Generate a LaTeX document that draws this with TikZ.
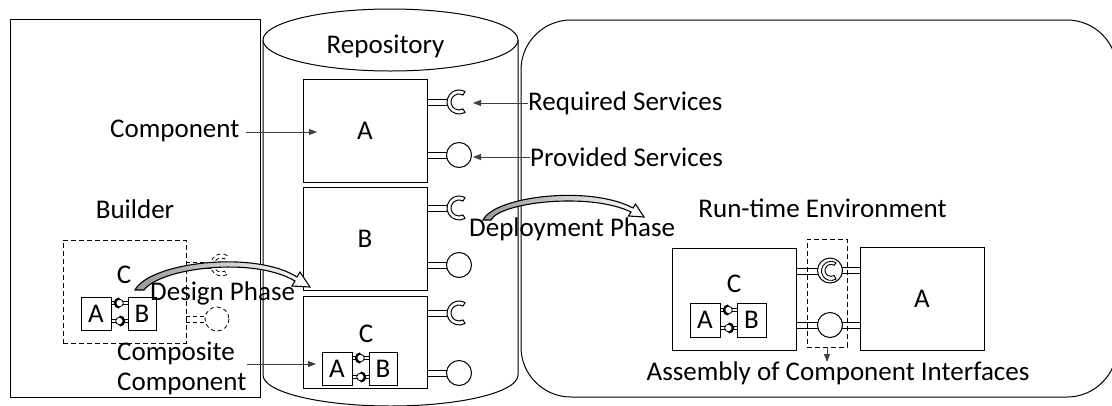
\documentclass[tikz,border=0pt]{standalone}
\usepackage{fontspec}
\setmainfont{Carlito}
\usetikzlibrary{arrows.meta}
% a two-line stub of the given length, leaving a box at (x,y)
\newcommand\stubat[3]{%
  \draw[stub] (#1,#2) ++(0,-3) -- ++(#3,0) (#1,#2) ++(0,3) -- ++(#3,0);}
% interface symbols, drawn from the point where they leave a box
\newcommand\reqif[2]{%
  \stubat{#1}{#2}{21}
  \draw[band] (#1,#2) ++(38,10.39) arc[start angle=60, end angle=300, radius=12]
    -- ++(-2,3.46) arc[start angle=300, end angle=60, radius=8] -- cycle;}
\newcommand\provif[2]{%
  \stubat{#1}{#2}{20.5}
  \draw[band] (#1,#2) ++(32,0) circle[radius=12.5];}
\newcommand\jointat[3]{%
  \draw[line width=0.7pt] (#1,#2) ++(0,-1.5) -- ++(17,0) (#1,#2) ++(0,1.5) -- ++(17,0);
  \draw[line width=0.8pt, fill=white] (#1,#2) ++(8.5,0) circle[radius=3.8];
  \draw[line width=2.2pt] (#1,#2) ++(8.5,0) ++(#3:4.6) arc[start angle=#3, delta angle=180, radius=4.6];}
\begin{document}
\begin{tikzpicture}[x=1pt, y=-1pt,
  every node/.style={font=\fontsize{27}{32}\selectfont, inner sep=0pt},
  frame/.style={draw, line width=1pt},
  box/.style={draw, line width=1pt, fill=white},
  dbox/.style={draw, line width=0.9pt, dash pattern=on 5pt off 3pt},
  label arrow/.style={draw=black!75, line width=0.8pt, -{Triangle[length=8pt,width=6pt]}},
  stub/.style={draw, line width=1pt},
  band/.style={draw, line width=1pt, fill=white},
  ghost/.style={line width=0.8pt, dash pattern=on 4pt off 3pt},
  phase/.style={draw, line width=1.1pt, left color=gray!80, right color=white},
]
\useasboundingbox (0,0) rectangle (1112,405);
\clip (0,0) rectangle (1112,405);

% ---------- Builder ----------
\draw[frame] (10,19) rectangle (260,397);

% ---------- Repository (cylinder) ----------
\draw[frame, fill=white] (263,40) -- (263,375)
  arc[start angle=180, end angle=0, x radius=127.5, y radius=31] -- (518,40);
\draw[frame, fill=white] (390.5,40) ellipse[x radius=127.5, y radius=31];
\node[anchor=base] (repo) at (385.5,53) {Repository};

% ---------- Run-time environment ----------
\draw[frame, rounded corners=50pt] (521,20) rectangle (1117,397);
\node[anchor=base] (rte) at (822.5,217) {Run-time Environment};

% ---------- Components stored in the repository ----------
\node[box, minimum width=124pt, minimum height=103pt] (repA) at (365,130.5) {A};
\node[box, minimum width=124pt, minimum height=103pt] (repB) at (365,238.5) {B};
\node[box, minimum width=124pt, minimum height=92pt] (repC) at (365,342) {};
\node[anchor=base] (repCl) at (366,342) {C};
\node[box, minimum width=30pt, minimum height=33pt] (repCA) at (337,368.5) {A};
\node[box, minimum width=28pt, minimum height=33pt] (repCB) at (383,368.5) {B};
\jointat{352}{358}{90}
\jointat{352}{377}{-90}

\reqif{427}{102}
\provif{427}{155}
\reqif{427}{208}
\provif{427}{265}
\reqif{427}{313}
\provif{427}{373}

% ---------- Composite under construction in the builder ----------
\node[dbox, minimum width=123pt, minimum height=103pt] (bld) at (124.5,291.5) {};
\node[anchor=base] (bldCl) at (124,283) {C};
\node[box, minimum width=30pt, minimum height=33pt] (bA) at (96,313.5) {A};
\node[box, minimum width=28pt, minimum height=33pt] (bB) at (142,313.5) {B};
\jointat{111}{303}{90}
\jointat{111}{321}{-90}
% interfaces still to be exported
\draw[ghost] (186,262) -- (210.5,262) (186,268) -- (210.5,268);
\draw[ghost, fill=white] (227,274.5) arc[start angle=60, end angle=300, radius=11]
  -- (224.5,259) arc[start angle=300, end angle=60, radius=7] -- cycle;
\draw[ghost] (186,316) -- (205,316) (186,322) -- (205,322);
\draw[ghost, fill=white] (217,319) circle[radius=12];

% ---------- Deployed assembly ----------
\node[box, minimum width=124pt, minimum height=102pt] (rtC) at (734,299) {};
\node[anchor=base] (rtCl) at (734,292) {C};
\node[box, minimum width=30pt, minimum height=34pt] (rtCA) at (705,320) {A};
\node[box, minimum width=29pt, minimum height=34pt] (rtCB) at (751.5,320) {B};
\jointat{720}{310}{90}
\jointat{720}{328}{-90}
\node[box, minimum width=124pt, minimum height=103pt] (rtA) at (922,298.5) {A};

\stubat{796}{271}{22}
\stubat{842}{270}{18}
\draw[band] (830,270.5) circle[radius=12.5];
\draw[band, line width=0.9pt] (836,279) arc[start angle=58, end angle=302, radius=9.5]
  -- (834.2,265.3) arc[start angle=302, end angle=58, radius=6] -- cycle;
\stubat{796}{325}{22}
\stubat{842}{325}{18}
\draw[band] (830,325) circle[radius=12.5];
\node[dbox, minimum width=40pt, minimum height=108pt] (asm) at (827,293) {};
\node[anchor=base] (asmL) at (838,380) {Assembly of Component Interfaces};
\coordinate (asmTip) at (827,362);
\draw[label arrow] (asm.south) -- (asmTip);

% ---------- Phase arrows ----------
\path[phase] (135,290) .. controls (150,262) and (255,250) .. (297,277)
  -- (300,272) -- (310,287) -- (292,286) -- (295,281)
  .. controls (253,256) and (160,268) .. (144,290) -- cycle;
\node[anchor=base west] (design) at (150,300) {Design Phase};

\path[phase] (483,220) .. controls (495,196) and (590,185) .. (633,208)
  -- (635.5,204) -- (644,217) -- (628.5,216) -- (631,212)
  .. controls (590,192) and (500,202) .. (491,220) -- cycle;
\node[anchor=base west] (deploy) at (469,236) {Deployment Phase};

% ---------- Labels ----------
\node[anchor=base] (builder) at (135,218) {Builder};

\node[anchor=base west] (lblComp) at (110,137) {Component};
\coordinate (compTip) at (317,132);
\draw[label arrow, shorten <=6pt] (lblComp.east |- compTip) -- (compTip);

\node[anchor=base west] (lblCps1) at (117,360) {Composite};
\node[anchor=base west] (lblCps2) at (117,390) {Component};
\coordinate (cpsTip) at (316,364);
\draw[label arrow] (lblCps2.east |- cpsTip) -- (cpsTip);

\node[anchor=base west] (lblReq) at (528,110) {Required Services};
\coordinate (reqTip) at (473,103);
\draw[label arrow] (lblReq.west |- reqTip) -- (reqTip);

\node[anchor=base west] (lblProv) at (530,166) {Provided Services};
\coordinate (provTip) at (473,157);
\draw[label arrow] (lblProv.west |- provTip) -- (provTip);
\end{tikzpicture}
\end{document}
